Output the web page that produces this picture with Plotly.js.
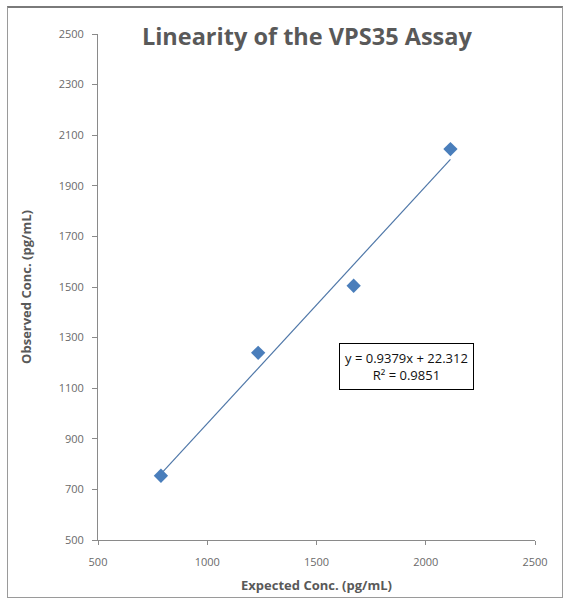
<!DOCTYPE html>
<html>
<head>
<meta charset="utf-8">
<script src="https://cdn.plot.ly/plotly-3.0.1.min.js"></script>
<style>
html,body{margin:0;padding:0;background:#fff;}
#wrap{position:relative;width:565px;height:600px;}
#chart{width:565px;height:600px;}
#frame{position:absolute;left:7px;top:6px;width:554px;height:589px;border:1px solid #9a9a9a;border-top:2px solid #7a7a7a;pointer-events:none;}
</style>
</head>
<body>
<div id="wrap"><div id="chart"></div><div id="frame"></div></div>
<script>
const expectedConc = [788, 1233, 1670, 2113];
const observedConc = [754, 1240, 1505, 2045];
const trendSlope = 0.9379;
const trendIntercept = 22.312;
const rSquared = 0.9851;
const xTickVals = [500, 1000, 1500, 2000, 2500];
const yTickVals = [500, 700, 900, 1100, 1300, 1500, 1700, 1900, 2100, 2300, 2500];

const xMin = Math.min(...expectedConc), xMax = Math.max(...expectedConc);
const trendX = [xMin, xMax];
const trendY = trendX.map(v => trendSlope * v + trendIntercept);

const blue = '#4a7ebb';
const data = [
  {x: trendX, y: trendY, type: 'scatter', mode: 'lines', line: {color: '#4f77a8', width: 1.2}, hoverinfo: 'skip'},
  {x: expectedConc, y: observedConc, type: 'scatter', mode: 'markers',
   marker: {symbol: 'diamond', size: 11, color: blue, line: {width: 0}}}
];

const tickFont = {family: 'Open Sans, sans-serif', size: 11, color: '#6a6a6a'};
const layout = {
  width: 565, height: 600,
  margin: {l: 98, r: 30, t: 34, b: 60},
  paper_bgcolor: '#fff', plot_bgcolor: '#fff',
  showlegend: false,
  title: {text: '<b>Linearity of the VPS35 Assay</b>', font: {family: 'Open Sans, sans-serif', size: 23.5, color: '#595959'},
          x: 0.478, xanchor: 'center', y: 0.938, yanchor: 'middle', xref: 'paper', yref: 'container'},
  xaxis: {range: [500, 2500], tickvals: xTickVals, ticktext: xTickVals.map(String), showgrid: false, zeroline: false,
          showline: true, linecolor: '#8a8a8a', linewidth: 1, ticks: 'outside', ticklen: 4, tickcolor: '#8a8a8a',
          tickfont: tickFont, ticklabelstandoff: 8,
          title: {text: '<b>Expected Conc. (pg/mL)</b>', font: {family: 'Open Sans, sans-serif', size: 13, color: '#595959'}, standoff: 12}},
  yaxis: {range: [500, 2500], tickvals: yTickVals, ticktext: yTickVals.map(String), showgrid: false, zeroline: false,
          showline: true, linecolor: '#8a8a8a', linewidth: 1, ticks: 'outside', ticklen: 5, tickcolor: '#8a8a8a',
          tickfont: tickFont, ticklabelstandoff: 6,
          title: {text: '<b>Observed Conc. (pg/mL)</b>', font: {family: 'Open Sans, sans-serif', size: 13, color: '#595959'}, standoff: 24}},
  annotations: [{
    xref: 'paper', yref: 'paper', x: 0.705, y: 0.342, xanchor: 'center', yanchor: 'middle',
    text: 'y = ' + trendSlope + 'x + ' + trendIntercept + '<br>R² = ' + rSquared,
    showarrow: false, align: 'center',
    font: {family: 'Open Sans, sans-serif', size: 13, color: '#111'},
    bordercolor: '#000', borderwidth: 1, borderpad: 5, bgcolor: '#fff'
  }]
};
Plotly.newPlot('chart', data, layout, {displayModeBar: false, staticPlot: true});
</script>
</body>
</html>
